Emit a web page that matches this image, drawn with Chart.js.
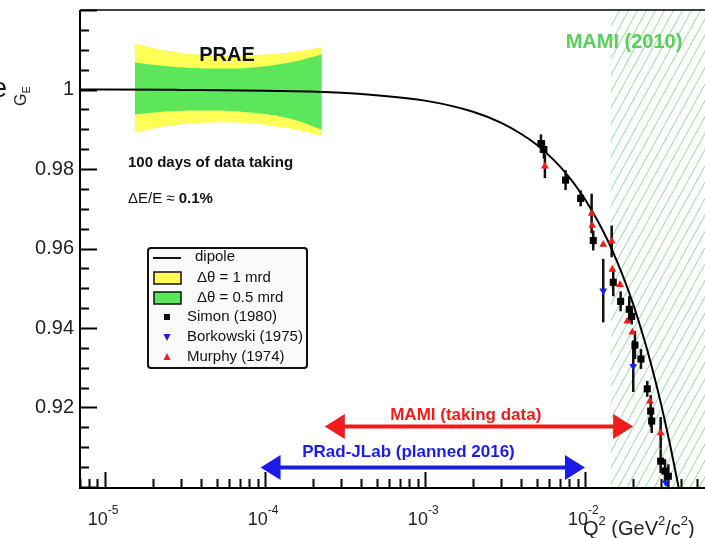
<!DOCTYPE html>
<html lang="en">
<head>
<meta charset="UTF-8">
<title>G_E vs Q2 - PRAE, MAMI, PRad-JLab</title>
<script src="https://cdn.jsdelivr.net/npm/chart.js@4.4.2/dist/chart.umd.min.js"></script>
<style>
    html, body { margin: 0; padding: 0; background: #fff; overflow: hidden; }
    #wrap { width: 760px; height: 538px; }
</style>
</head>
<body>
<div id="wrap"><canvas id="geChart" width="760" height="538"></canvas></div>
<script>
// --- values ---
const dipoleQ2 = [7e-6, 1e-5, 3e-5, 1e-4, 3e-4, 1e-3, 2e-3, 3e-3, 4e-3, 5e-3, 6e-3, 7e-3, 8e-3, 9e-3,
                  0.010, 0.012, 0.014, 0.016, 0.018, 0.020, 0.022, 0.024, 0.026, 0.028, 0.030, 0.032, 0.034, 0.036, 0.038, 0.040];
const dipoleGE = [1.0000, 1.0000, 0.9999, 0.9997, 0.9992, 0.9972, 0.9944, 0.9916, 0.9888, 0.9861, 0.9833, 0.9806, 0.9778, 0.9751,
                  0.9724, 0.9670, 0.9617, 0.9564, 0.9512, 0.9460, 0.9408, 0.9357, 0.9306, 0.9256, 0.9206, 0.9156, 0.9107, 0.9058, 0.9010, 0.8962];

// PRAE projected band (Delta theta = 1 mrd / 0.5 mrd)
const bandQ2 = [1.54e-5, 2.55e-5, 4.53e-5, 8.06e-5, 1.43e-4, 2.27e-4];
const yellowTop    = [1.0116, 1.0096, 1.0086, 1.0086, 1.0093, 1.0106];
const greenTop     = [1.0068, 1.0058, 1.0053, 1.0055, 1.0068, 1.0088];
const greenBottom  = [0.9937, 0.9945, 0.9947, 0.9942, 0.9927, 0.9899];
const yellowBottom = [0.9892, 0.9909, 0.9917, 0.9915, 0.9902, 0.9884];

// Simon (1980)
const simonQ2  = [0.00531, 0.00554, 0.00757, 0.0094, 0.01127, 0.01503, 0.01671, 0.01892, 0.01958, 0.02053, 0.02239, 0.0245, 0.02575, 0.02612, 0.02972, 0.03162, 0.0332];
const simonGE  = [0.9864, 0.9849, 0.9772, 0.9726, 0.9620, 0.9515, 0.9467, 0.9447, 0.9429, 0.9357, 0.9322, 0.9247, 0.9191, 0.9166, 0.9065, 0.9040, 0.9027];
const simonErr = [0.0023, 0.0023, 0.0025, 0.0020, 0.0025, 0.0035, 0.0025, 0.0033, 0.0020, 0.0035, 0.0025, 0.0020, 0.0040, 0.0030, 0.0030, 0.0030, 0.0030];

// Borkowski (1975)
const borkQ2  = [0.01301, 0.02004, 0.03206];
const borkGE  = [0.9494, 0.9304, 0.9011];
const borkErr = [0.0080, 0.0065, 0];

// Murphy (1974)
const murphyQ2  = [0.00562, 0.01101, 0.0111, 0.01301, 0.01469, 0.01482, 0.01655, 0.01838, 0.01976, 0.02547, 0.02972];
const murphyGE  = [0.9807, 0.9688, 0.9658, 0.9610, 0.9618, 0.9547, 0.9509, 0.9417, 0.9389, 0.9216, 0.9136];
const murphyErr = [0.0030, 0.0050, 0, 0, 0.0040, 0, 0, 0, 0, 0, 0.0040];

// MAMI (2010) region starts here
const mamiStart = 0.0145;

// range arrows
const arrowLabels = ['MAMI (taking data)', 'PRad-JLab (planned 2016)'];
const arrowFrom   = [2.37e-4, 9.4e-5];
const arrowTo     = [0.0200, 0.0100];
const arrowGE     = [0.9152, 0.9049];
const arrowLabelQ2 = [1.8e-3, 7.9e-4];
const arrowLabelGE = [0.9180, 0.9087];

// axes
const yTickValues = [0.92, 0.94, 0.96, 0.98, 1.0];
const yTickLabels = ['0.92', '0.94', '0.96', '0.98', '1'];
const xTickDecades = [-5, -4, -3, -2];

const FONT = '"Liberation Sans", Arial, sans-serif';
const RED = '#f01c1c';
const BLUE = '#1c1ce8';
const YELLOW = '#ffff55';
const GREEN = '#5ce65c';

const pts = (xs, ys, es) => xs.map((x, i) => ({ x: x, y: ys[i], err: es ? es[i] : 0 }));

const figurePlugin = {
    id: 'figurePlugin',
    beforeDatasetsDraw(chart) {
        const ctx = chart.ctx;
        const { left, right, top, bottom } = chart.chartArea;
        const xs = chart.scales.x, ys = chart.scales.y;

        // hatched MAMI (2010) region
        const x0 = xs.getPixelForValue(mamiStart);
        ctx.save();
        ctx.beginPath();
        ctx.rect(x0, top, right - x0, bottom - top);
        ctx.clip();
        ctx.beginPath();
        ctx.strokeStyle = 'rgba(110, 200, 120, 0.7)';
        ctx.lineWidth = 1;
        const h = bottom - top, k = 0.55;
        for (let x = x0 - h * k; x < right; x += 9) {
            ctx.moveTo(x, bottom);
            ctx.lineTo(x + h * k, top);
        }
        ctx.stroke();
        ctx.restore();

        // error bars for the three data sets
        ctx.save();
        ctx.strokeStyle = '#111';
        ctx.lineWidth = 2.5;
        [0, 1, 2].forEach(di => {
            chart.data.datasets[di].data.forEach(p => {
                if (!p.err) return;
                const px = xs.getPixelForValue(p.x);
                ctx.beginPath();
                ctx.moveTo(px, ys.getPixelForValue(p.y - p.err));
                ctx.lineTo(px, ys.getPixelForValue(p.y + p.err));
                ctx.stroke();
            });
        });
        ctx.restore();
    },
    afterDatasetsDraw(chart) {
        const ctx = chart.ctx;
        const { left, right, top, bottom } = chart.chartArea;
        const xs = chart.scales.x, ys = chart.scales.y;
        ctx.save();

        // frame
        ctx.strokeStyle = '#000';
        ctx.lineWidth = 1.5;
        ctx.beginPath(); ctx.moveTo(left, top); ctx.lineTo(right, top); ctx.stroke();
        ctx.lineWidth = 2;
        ctx.beginPath(); ctx.moveTo(left, top); ctx.lineTo(left, bottom + 1); ctx.lineTo(right, bottom + 1); ctx.stroke();

        // y ticks (inside)
        ctx.lineWidth = 2;
        for (let i = 0; i <= 24; i++) {
            const v = 0.9 + i * 0.005;
            const py = Math.round(ys.getPixelForValue(v)) + 0.5;
            const len = (i % 4 === 0) ? 17 : 9;
            ctx.beginPath(); ctx.moveTo(left, py); ctx.lineTo(left + len, py); ctx.stroke();
        }
        // x ticks (inside)
        for (let d = -6; d <= -1; d++) {
            for (let m = 1; m <= 9; m++) {
                const v = m * Math.pow(10, d);
                if (v < xs.min || v > xs.max) continue;
                const px = Math.round(xs.getPixelForValue(v)) + 0.5;
                const len = (m === 1) ? 15 : 8;
                ctx.beginPath(); ctx.moveTo(px, bottom); ctx.lineTo(px, bottom - len); ctx.stroke();
            }
        }

        // x tick labels 10^n
        ctx.fillStyle = '#222';
        ctx.textBaseline = 'alphabetic';
        xTickDecades.forEach(d => {
            const px = xs.getPixelForValue(Math.pow(10, d));
            ctx.font = '18px ' + FONT;
            ctx.textAlign = 'right';
            ctx.fillText('10', px + 3, 525);
            ctx.font = '12px ' + FONT;
            ctx.textAlign = 'left';
            ctx.fillText('-' + (-d), px + 3, 514);
        });

        // x axis title Q^2 (GeV^2/c^2)
        let tx = 583;
        const seg = (t, size, dy) => {
            ctx.font = size + 'px ' + FONT;
            ctx.textAlign = 'left';
            ctx.fillText(t, tx, 535 + dy);
            tx += ctx.measureText(t).width;
        };
        seg('Q', 20, 0); seg('2', 13, -10); seg(' (GeV', 20, 0); seg('2', 13, -10); seg('/c', 20, 0); seg('2', 13, -10); seg(')', 20, 0);

        // y axis title G_E (rotated)
        ctx.save();
        ctx.translate(26, 106);
        ctx.rotate(-Math.PI / 2);
        ctx.textAlign = 'left';
        ctx.font = '16px ' + FONT;
        ctx.fillText('G', 0, 0);
        const gw = ctx.measureText('G').width;
        ctx.font = '11px ' + FONT;
        ctx.fillText('E', gw, 4);
        ctx.restore();

        // stray letter on the left edge
        ctx.font = '27px ' + FONT;
        ctx.fillStyle = '#111';
        ctx.textAlign = 'left';
        ctx.fillText('e', -8, 97);

        // PRAE annotations
        ctx.fillStyle = '#111';
        ctx.textAlign = 'center';
        ctx.textBaseline = 'middle';
        ctx.font = 'bold 20px ' + FONT;
        ctx.fillText('PRAE', 227, 55);
        ctx.textAlign = 'left';
        ctx.font = 'bold 15px ' + FONT;
        ctx.fillText('100 days of data taking', 128, 163);
        let ax = 128;
        const seg2 = (t, f) => { ctx.font = f; ctx.fillText(t, ax, 199); ax += ctx.measureText(t).width; };
        seg2('\u0394E/E ', '15px ' + FONT);
        seg2('\u2248 ', '15px ' + FONT);
        seg2('0.1%', 'bold 15px ' + FONT);

        // MAMI (2010)
        ctx.font = 'bold 20px ' + FONT;
        ctx.textAlign = 'center';
        ctx.fillStyle = '#5acf5a';
        ctx.fillText('MAMI (2010)', 624, 42);

        // range arrows
        arrowLabels.forEach((lab, i) => {
            const color = i === 0 ? RED : BLUE;
            const x1 = xs.getPixelForValue(arrowFrom[i]);
            const x2 = xs.getPixelForValue(arrowTo[i]);
            const py = ys.getPixelForValue(arrowGE[i]);
            const hl = 20, hw = 12.5;
            ctx.fillStyle = color;
            ctx.strokeStyle = color;
            ctx.lineWidth = 4;
            ctx.beginPath(); ctx.moveTo(x1 + hl - 2, py); ctx.lineTo(x2 - hl + 2, py); ctx.stroke();
            ctx.beginPath(); ctx.moveTo(x1, py); ctx.lineTo(x1 + hl, py - hw); ctx.lineTo(x1 + hl, py + hw); ctx.closePath(); ctx.fill();
            ctx.beginPath(); ctx.moveTo(x2, py); ctx.lineTo(x2 - hl, py - hw); ctx.lineTo(x2 - hl, py + hw); ctx.closePath(); ctx.fill();
            ctx.font = 'bold 17px ' + FONT;
            ctx.textAlign = 'center';
            ctx.textBaseline = 'middle';
            ctx.fillText(lab, xs.getPixelForValue(arrowLabelQ2[i]), ys.getPixelForValue(arrowLabelGE[i]));
        });

        // legend box
        ctx.fillStyle = '#fafafa';
        ctx.strokeStyle = '#111';
        ctx.lineWidth = 2;
        ctx.beginPath();
        ctx.roundRect(148, 248, 159, 120, 3);
        ctx.fill(); ctx.stroke();
        ctx.font = '15px ' + FONT;
        ctx.textAlign = 'left';
        ctx.textBaseline = 'middle';
        ctx.fillStyle = '#111';
        // dipole
        ctx.lineWidth = 2;
        ctx.beginPath(); ctx.moveTo(153, 258); ctx.lineTo(181, 258); ctx.stroke();
        ctx.fillText('dipole', 195, 257);
        // bands
        ctx.lineWidth = 1.5;
        ctx.fillStyle = YELLOW; ctx.fillRect(154, 272, 27, 12); ctx.strokeRect(154, 272, 27, 12);
        ctx.fillStyle = GREEN; ctx.fillRect(154, 292, 27, 12); ctx.strokeRect(154, 292, 27, 12);
        ctx.fillStyle = '#111';
        ctx.fillText('\u0394\u03b8 = 1 mrd', 197, 278);
        ctx.fillText('\u0394\u03b8 = 0.5 mrd', 197, 298);
        // markers
        ctx.fillRect(164, 314, 6, 6);
        ctx.fillText('Simon (1980)', 187, 317);
        ctx.fillStyle = BLUE;
        ctx.beginPath(); ctx.moveTo(163.5, 334); ctx.lineTo(170.5, 334); ctx.lineTo(167, 341); ctx.closePath(); ctx.fill();
        ctx.fillStyle = '#111';
        ctx.fillText('Borkowski (1975)', 187, 337);
        ctx.fillStyle = RED;
        ctx.beginPath(); ctx.moveTo(163.5, 360); ctx.lineTo(170.5, 360); ctx.lineTo(167, 353); ctx.closePath(); ctx.fill();
        ctx.fillStyle = '#111';
        ctx.fillText('Murphy (1974)', 187, 357);

        ctx.restore();
    }
};

const ctx = document.getElementById('geChart').getContext('2d');
new Chart(ctx, {
    type: 'line',
    data: {
        datasets: [
            { label: 'Simon (1980)', data: pts(simonQ2, simonGE, simonErr), showLine: false,
              pointStyle: 'rect', pointRadius: 5, pointBackgroundColor: '#000', pointBorderColor: '#000', pointBorderWidth: 0, order: 0 },
            { label: 'Borkowski (1975)', data: pts(borkQ2, borkGE, borkErr), showLine: false,
              pointStyle: 'triangle', rotation: 180, pointRadius: 4.5, pointBackgroundColor: BLUE, pointBorderColor: BLUE, pointBorderWidth: 0, order: 0 },
            { label: 'Murphy (1974)', data: pts(murphyQ2, murphyGE, murphyErr), showLine: false,
              pointStyle: 'triangle', pointRadius: 4.5, pointBackgroundColor: RED, pointBorderColor: RED, pointBorderWidth: 0, order: 0 },
            { label: 'dipole', data: pts(dipoleQ2, dipoleGE), borderColor: '#000', borderWidth: 2,
              pointRadius: 0, cubicInterpolationMode: 'monotone', fill: false, order: 1 },
            { label: 'green top', data: pts(bandQ2, greenTop), borderWidth: 0, pointRadius: 0, tension: 0.4,
              fill: '+1', backgroundColor: GREEN, order: 2 },
            { label: 'green bottom', data: pts(bandQ2, greenBottom), borderWidth: 0, pointRadius: 0, tension: 0.4,
              fill: false, order: 3 },
            { label: 'yellow top', data: pts(bandQ2, yellowTop), borderWidth: 0, pointRadius: 0, tension: 0.4,
              fill: '+1', backgroundColor: YELLOW, order: 4 },
            { label: 'yellow bottom', data: pts(bandQ2, yellowBottom), borderWidth: 0, pointRadius: 0, tension: 0.4,
              fill: false, order: 5 }
        ]
    },
    options: {
        responsive: false,
        animation: false,
        layout: { padding: { top: 10, right: 15, left: 0, bottom: 0 } },
        plugins: { legend: { display: false }, tooltip: { enabled: false } },
        scales: {
            x: {
                type: 'logarithmic', min: 7e-6, max: 0.1,
                ticks: { display: false }, grid: { display: false }, border: { display: false },
                afterFit: s => { s.height = 51; s.paddingLeft = 0; s.paddingRight = 0; }
            },
            y: {
                min: 0.9, max: 1.02,
                afterBuildTicks: s => { s.ticks = yTickValues.map(v => ({ value: v })); },
                ticks: { font: { family: FONT, size: 20 }, color: '#222', padding: 6, autoSkip: false,
                         callback: (v, i) => yTickLabels[i] },
                grid: { display: false, drawTicks: false }, border: { display: false },
                afterFit: s => { s.width = 80; s.paddingTop = 0; s.paddingBottom = 0; }
            }
        }
    },
    plugins: [figurePlugin]
});
</script>
</body>
</html>
